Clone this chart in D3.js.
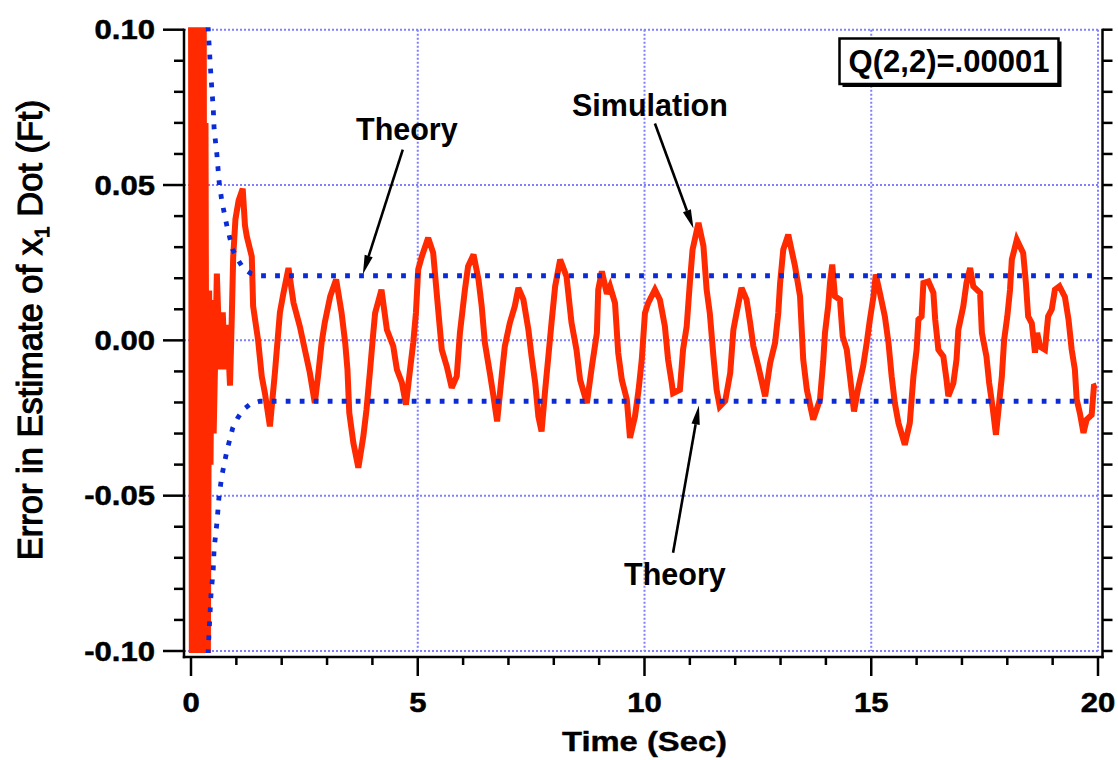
<!DOCTYPE html>
<html>
<head>
<meta charset="utf-8">
<script src="https://cdn.jsdelivr.net/npm/d3@7"></script>
<style>
  html, body { margin: 0; padding: 0; background: #fff; }
  svg { display: block; font-family: 'Liberation Sans', Arial, Helvetica, sans-serif; }
</style>
</head>
<body>
<svg id="chart" width="1118" height="760"></svg>
<script>
// Theory bounds (+/- sqrt of covariance)
const theoryTime  = [0.36, 0.38, 0.44, 0.49, 0.51, 0.57, 0.62, 0.68, 0.74, 0.80, 0.86, 0.92, 1.03, 1.15, 1.32, 1.52, 20];
const theoryUpper = [0.11, 0.100, 0.085, 0.0748, 0.068, 0.060, 0.051, 0.0448, 0.0405, 0.0362, 0.0327, 0.0292, 0.0260, 0.0233, 0.0215, 0.0208, 0.0208];
const theoryLower = [-0.11, -0.0997, -0.082, -0.0738, -0.067, -0.059, -0.050, -0.0436, -0.0393, -0.035, -0.0317, -0.0282, -0.025, -0.0223, -0.0204, -0.0196, -0.0196];

// Simulation error in estimate of x1 dot: [time, error]
const simulation = [
  [0.00, 0.12], [0.02, -0.12], [0.04, 0.12], [0.06, -0.12], [0.08, 0.12], [0.10, -0.12],
  [0.12, 0.12], [0.14, -0.12], [0.16, 0.12], [0.18, -0.12], [0.20, 0.12], [0.22, -0.12],
  [0.24, 0.12], [0.26, -0.12], [0.28, 0.12], [0.30, -0.12], [0.32, 0.07], [0.34, -0.045],
  [0.37, -0.11], [0.40, 0.016], [0.43, -0.040], [0.46, 0.013], [0.50, -0.030], [0.57, 0.0215],
  [0.64, -0.0093], [0.70, 0.009], [0.75, -0.0093], [0.80, 0.005], [0.86, -0.0146], [0.90, 0.0077],
  [0.93, 0.0267], [0.98, 0.039], [1.05, 0.045], [1.14, 0.0488], [1.19, 0.037], [1.23, 0.0335],
  [1.34, 0.027], [1.37, 0.011], [1.48, 0.000], [1.56, -0.0116], [1.63, -0.017], [1.74, -0.0277],
  [1.85, -0.0104], [1.96, 0.0089], [2.04, 0.0153], [2.15, 0.0233], [2.26, 0.0121], [2.40, 0.0045],
  [2.51, -0.003], [2.62, -0.0104], [2.73, -0.0202], [2.81, -0.0104], [2.88, -0.0008], [2.95, 0.0057],
  [3.07, 0.0142], [3.20, 0.0196], [3.32, 0.0089], [3.40, -0.0008], [3.45, -0.0094], [3.49, -0.0233],
  [3.58, -0.033], [3.69, -0.041], [3.80, -0.0309], [3.87, -0.0223], [3.95, -0.0094], [4.02, 0.0025],
  [4.06, 0.0088], [4.20, 0.0163], [4.32, 0.0034], [4.46, -0.0019], [4.54, -0.0094], [4.65, -0.0136],
  [4.74, -0.0207], [4.83, -0.0094], [4.90, -0.0008], [4.96, 0.0088], [5.01, 0.0228], [5.09, 0.027],
  [5.23, 0.033], [5.34, 0.0282], [5.45, 0.0099], [5.53, -0.003], [5.64, -0.0084], [5.75, -0.0153],
  [5.86, -0.0116], [5.93, 0.0024], [6.04, 0.0163], [6.11, 0.0238], [6.23, 0.0276], [6.34, 0.0195],
  [6.41, 0.011], [6.48, -0.0008], [6.59, -0.0105], [6.67, -0.018], [6.75, -0.0261], [6.85, -0.0116],
  [6.92, -0.0019], [7.03, 0.0056], [7.14, 0.011], [7.22, 0.0169], [7.33, 0.0131], [7.44, 0.0034],
  [7.51, -0.0052], [7.59, -0.0137], [7.66, -0.0245], [7.73, -0.0293], [7.81, -0.0159], [7.88, -0.0052],
  [7.95, 0.0057], [8.03, 0.0174], [8.14, 0.026], [8.28, 0.0206], [8.39, 0.0057], [8.50, -0.003],
  [8.58, -0.0127], [8.73, -0.0202], [8.84, -0.0084], [8.95, 0.0024], [8.98, 0.0163], [9.06, 0.0222],
  [9.17, 0.0150], [9.24, 0.0174], [9.35, 0.012], [9.42, -0.004], [9.50, -0.0127], [9.61, -0.019],
  [9.68, -0.0314], [9.79, -0.0245], [9.87, -0.0159], [9.94, -0.0062], [10.01, 0.0088], [10.08, 0.012],
  [10.23, 0.0163], [10.34, 0.0131], [10.45, 0.0045], [10.52, -0.0062], [10.60, -0.0137], [10.63, -0.017],
  [10.78, -0.0159], [10.85, -0.003], [10.93, 0.0045], [11.00, 0.0185], [11.06, 0.0292], [11.19, 0.0378],
  [11.30, 0.0303], [11.37, 0.0163], [11.44, 0.0088], [11.52, -0.0052], [11.59, -0.0159], [11.66, -0.0213],
  [11.78, -0.0195], [11.89, -0.0105], [11.96, 0.0034], [12.03, 0.0088], [12.14, 0.0169], [12.25, 0.0131],
  [12.33, 0.0056], [12.40, -0.0019], [12.51, -0.0084], [12.66, -0.018], [12.77, -0.0073], [12.88, -0.0008],
  [12.95, 0.0088], [12.99, 0.0185], [13.06, 0.0292], [13.17, 0.034], [13.32, 0.0238], [13.43, 0.0142],
  [13.50, -0.0062], [13.58, -0.0159], [13.72, -0.0255], [13.87, -0.019], [13.94, -0.007], [13.98, 0.0024],
  [14.05, 0.011], [14.09, 0.0185], [14.14, 0.0244], [14.20, 0.0142], [14.31, 0.0131], [14.37, 0.0013],
  [14.46, -0.003], [14.53, -0.0116], [14.62, -0.0229], [14.71, -0.0155], [14.82, -0.0084], [14.90, -0.0008],
  [14.97, 0.0067], [15.05, 0.0142], [15.10, 0.0212], [15.19, 0.0153], [15.30, 0.0077], [15.38, -0.0008],
  [15.45, -0.0116], [15.52, -0.0202], [15.60, -0.0266], [15.74, -0.0336], [15.85, -0.0266], [15.93, -0.0116],
  [16.00, -0.003], [16.04, 0.0067], [16.11, 0.0077], [16.15, 0.0185], [16.26, 0.019], [16.37, 0.0153],
  [16.41, 0.0067], [16.48, -0.003], [16.59, -0.0052], [16.66, -0.0127], [16.70, -0.018], [16.81, -0.0138],
  [16.88, -0.0062], [16.92, 0.0034], [17.03, 0.011], [17.10, 0.0185], [17.18, 0.0233], [17.25, 0.0174],
  [17.40, 0.0153], [17.44, 0.0024], [17.54, -0.0052], [17.60, -0.0137], [17.68, -0.022], [17.75, -0.0304],
  [17.82, -0.0202], [17.88, -0.0116], [17.93, 0.0002], [18.00, 0.0077], [18.06, 0.0163], [18.10, 0.026],
  [18.21, 0.0324], [18.35, 0.0281], [18.41, 0.0185], [18.46, 0.0077], [18.54, 0.0055], [18.61, -0.004],
  [18.66, 0.0024], [18.72, -0.002], [18.83, -0.003], [18.90, 0.0077], [18.98, 0.0100], [19.05, 0.0163],
  [19.15, 0.0174], [19.27, 0.0140], [19.35, 0.0067], [19.42, -0.003], [19.49, -0.0094], [19.53, -0.019],
  [19.60, -0.0234], [19.68, -0.0298], [19.75, -0.0255], [19.86, -0.0240], [19.91, -0.0148], [19.97, -0.0145]
];

const xMajorTicks = [0, 5, 10, 15, 20];
const yMajorTicks = [-0.10, -0.05, 0.00, 0.05, 0.10];
const xLabel = 'Time (Sec)';
const qLabel = 'Q(2,2)=.00001';

// annotations in data units: label position, arrow start, arrow tip
const annotations = [
  { text: 'Theory', tx: 4.76, ty: 0.0646, from: [4.67, 0.0614], to: [3.79, 0.0213] },
  { text: 'Simulation', tx: 10.12, ty: 0.0721, from: [10.23, 0.0698], to: [11.08, 0.0360] },
  { text: 'Theory', tx: 10.67, ty: -0.0787, from: [10.63, -0.0684], to: [11.20, -0.0210] }
];

const svg = d3.select('#chart');

// plot frame
const plotLeft = 191, plotRight = 1098, plotTop = 29.7, plotBottom = 651;
const leftAxisX = 184, rightAxisX = 1102.5, bottomAxisY = 657;

const xScale = d3.scaleLinear([0, 20], [plotLeft, plotRight]);
const yScale = d3.scaleLinear([-0.1, 0.1], [plotBottom, plotTop]);

const gridColor = '#7f7fff';
const theoryColor = '#0b2bd6';
const simColor = '#ff2a00';

svg.append('defs').append('clipPath').attr('id', 'plot-clip')
  .append('rect')
  .attr('x', leftAxisX + 1).attr('y', plotTop - 2.5)
  .attr('width', rightAxisX - leftAxisX - 2).attr('height', plotBottom - plotTop + 4.5);

// grid lines
const grid = svg.append('g')
  .attr('stroke', gridColor).attr('stroke-width', 2).attr('stroke-dasharray', '2,2');
grid.selectAll('line.h').data(yMajorTicks).join('line')
  .attr('x1', leftAxisX).attr('x2', plotRight)
  .attr('y1', d => yScale(d)).attr('y2', d => yScale(d));
grid.selectAll('line.v').data(xMajorTicks).join('line')
  .attr('x1', d => xScale(d)).attr('x2', d => xScale(d))
  .attr('y1', plotTop).attr('y2', plotBottom);

const plot = svg.append('g').attr('clip-path', 'url(#plot-clip)');

// simulation
const simLine = d3.line().x(d => xScale(d[0])).y(d => yScale(d[1]));
plot.append('path')
  .datum(simulation)
  .attr('d', simLine)
  .attr('fill', 'none')
  .attr('stroke', simColor)
  .attr('stroke-width', 6)
  .attr('stroke-linejoin', 'miter')
  .attr('stroke-miterlimit', 3);

// theory bounds
const theoryLine = d3.line().x((d, i) => xScale(theoryTime[i])).y(d => yScale(d));
[theoryUpper, theoryLower].forEach(series => {
  plot.append('path')
    .datum(series)
    .attr('d', theoryLine)
    .attr('fill', 'none')
    .attr('stroke', theoryColor)
    .attr('stroke-width', 4.8)
    .attr('stroke-dasharray', '4.8,9.2');
});

// axes
const axes = svg.append('g').attr('stroke', '#000').attr('stroke-width', 2.5);
axes.append('line').attr('x1', leftAxisX).attr('x2', leftAxisX)
  .attr('y1', plotTop - 1).attr('y2', bottomAxisY + 1.2);
axes.append('line').attr('x1', leftAxisX - 1.2).attr('x2', rightAxisX + 1.2)
  .attr('y1', bottomAxisY).attr('y2', bottomAxisY);
axes.append('line').attr('x1', rightAxisX).attr('x2', rightAxisX)
  .attr('y1', plotTop - 1).attr('y2', bottomAxisY + 1.2);

const yMinor = yScale.ticks(20);
const xMinor = xScale.ticks(20);
const isMajorY = d => yMajorTicks.some(m => Math.abs(m - d) < 1e-9);
const isMajorX = d => xMajorTicks.includes(d);

axes.selectAll('line.yl').data(yMinor).join('line')
  .attr('x1', d => leftAxisX - (isMajorY(d) ? 21 : 10)).attr('x2', leftAxisX)
  .attr('y1', d => yScale(d)).attr('y2', d => yScale(d));
axes.selectAll('line.yr').data(yMinor).join('line')
  .attr('x1', rightAxisX).attr('x2', rightAxisX + 10)
  .attr('y1', d => yScale(d)).attr('y2', d => yScale(d));
axes.selectAll('line.xb').data(xMinor).join('line')
  .attr('x1', d => xScale(d)).attr('x2', d => xScale(d))
  .attr('y1', bottomAxisY).attr('y2', d => bottomAxisY + (isMajorX(d) ? 19 : 8));

// tick labels (the original type is set a little wide)
const fmtY = v => d3.format('.2f')(v).replace('\u2212', '-');
svg.append('g').selectAll('text').data(yMajorTicks).join('text')
  .attr('transform', d => `translate(155,${yScale(d) + 9.5}) scale(1.15,1)`)
  .attr('text-anchor', 'end')
  .attr('font-size', 27).attr('font-weight', 'bold')
  .attr('stroke', '#000').attr('stroke-width', 0.5)
  .text(fmtY);
svg.append('g').selectAll('text').data(xMajorTicks).join('text')
  .attr('transform', d => `translate(${xScale(d)},711.5) scale(1.15,1)`)
  .attr('text-anchor', 'middle')
  .attr('font-size', 27).attr('font-weight', 'bold')
  .attr('stroke', '#000').attr('stroke-width', 0.5)
  .text(d => d);

// axis titles
svg.append('text')
  .attr('transform', `translate(${xScale(10)},751) scale(1.17,1)`)
  .attr('text-anchor', 'middle')
  .attr('font-size', 28).attr('font-weight', 'bold')
  .attr('stroke', '#000').attr('stroke-width', 0.4)
  .text(xLabel);

const yTitle = svg.append('text')
  .attr('transform', 'translate(42,330) rotate(-90)')
  .attr('text-anchor', 'middle')
  .attr('font-size', 34.5)
  .attr('fill', '#000').attr('stroke', '#000').attr('stroke-width', 1.1);
yTitle.append('tspan').text('Error in Estimate of x');
yTitle.append('tspan').attr('font-size', 21).attr('dy', 7).text('1');
yTitle.append('tspan').attr('dy', -7).text(' Dot (Ft)');

// annotations with arrows
const ann = svg.append('g');
annotations.forEach(a => {
  ann.append('text')
    .attr('x', xScale(a.tx)).attr('y', yScale(a.ty))
    .attr('text-anchor', 'middle')
    .attr('font-size', 30.5).attr('font-weight', 'bold')
    .text(a.text);
  const x1 = xScale(a.from[0]), y1 = yScale(a.from[1]);
  const x2 = xScale(a.to[0]), y2 = yScale(a.to[1]);
  const ang = Math.atan2(y2 - y1, x2 - x1);
  const len = 19, half = 4.2;
  const bx = x2 - len * Math.cos(ang), by = y2 - len * Math.sin(ang);
  ann.append('line')
    .attr('x1', x1).attr('y1', y1).attr('x2', bx).attr('y2', by)
    .attr('stroke', '#000').attr('stroke-width', 2.6);
  ann.append('path')
    .attr('d', d3.line()([
      [x2, y2],
      [bx + half * Math.sin(ang), by - half * Math.cos(ang)],
      [bx - half * Math.sin(ang), by + half * Math.cos(ang)]
    ]) + 'Z')
    .attr('fill', '#000');
});

// parameter box with drop shadow
const box = { x: 839.5, y: 38.5, w: 219, h: 45.5 };
svg.append('rect')
  .attr('x', box.x + 3).attr('y', box.y + 3).attr('width', box.w).attr('height', box.h)
  .attr('fill', '#000');
svg.append('rect')
  .attr('x', box.x).attr('y', box.y).attr('width', box.w).attr('height', box.h)
  .attr('fill', '#fff').attr('stroke', '#000').attr('stroke-width', 2.5);
svg.append('text')
  .attr('x', box.x + box.w / 2).attr('y', box.y + 33)
  .attr('text-anchor', 'middle')
  .attr('font-size', 31).attr('font-weight', 'bold')
  .text(qLabel);
</script>
</body>
</html>
